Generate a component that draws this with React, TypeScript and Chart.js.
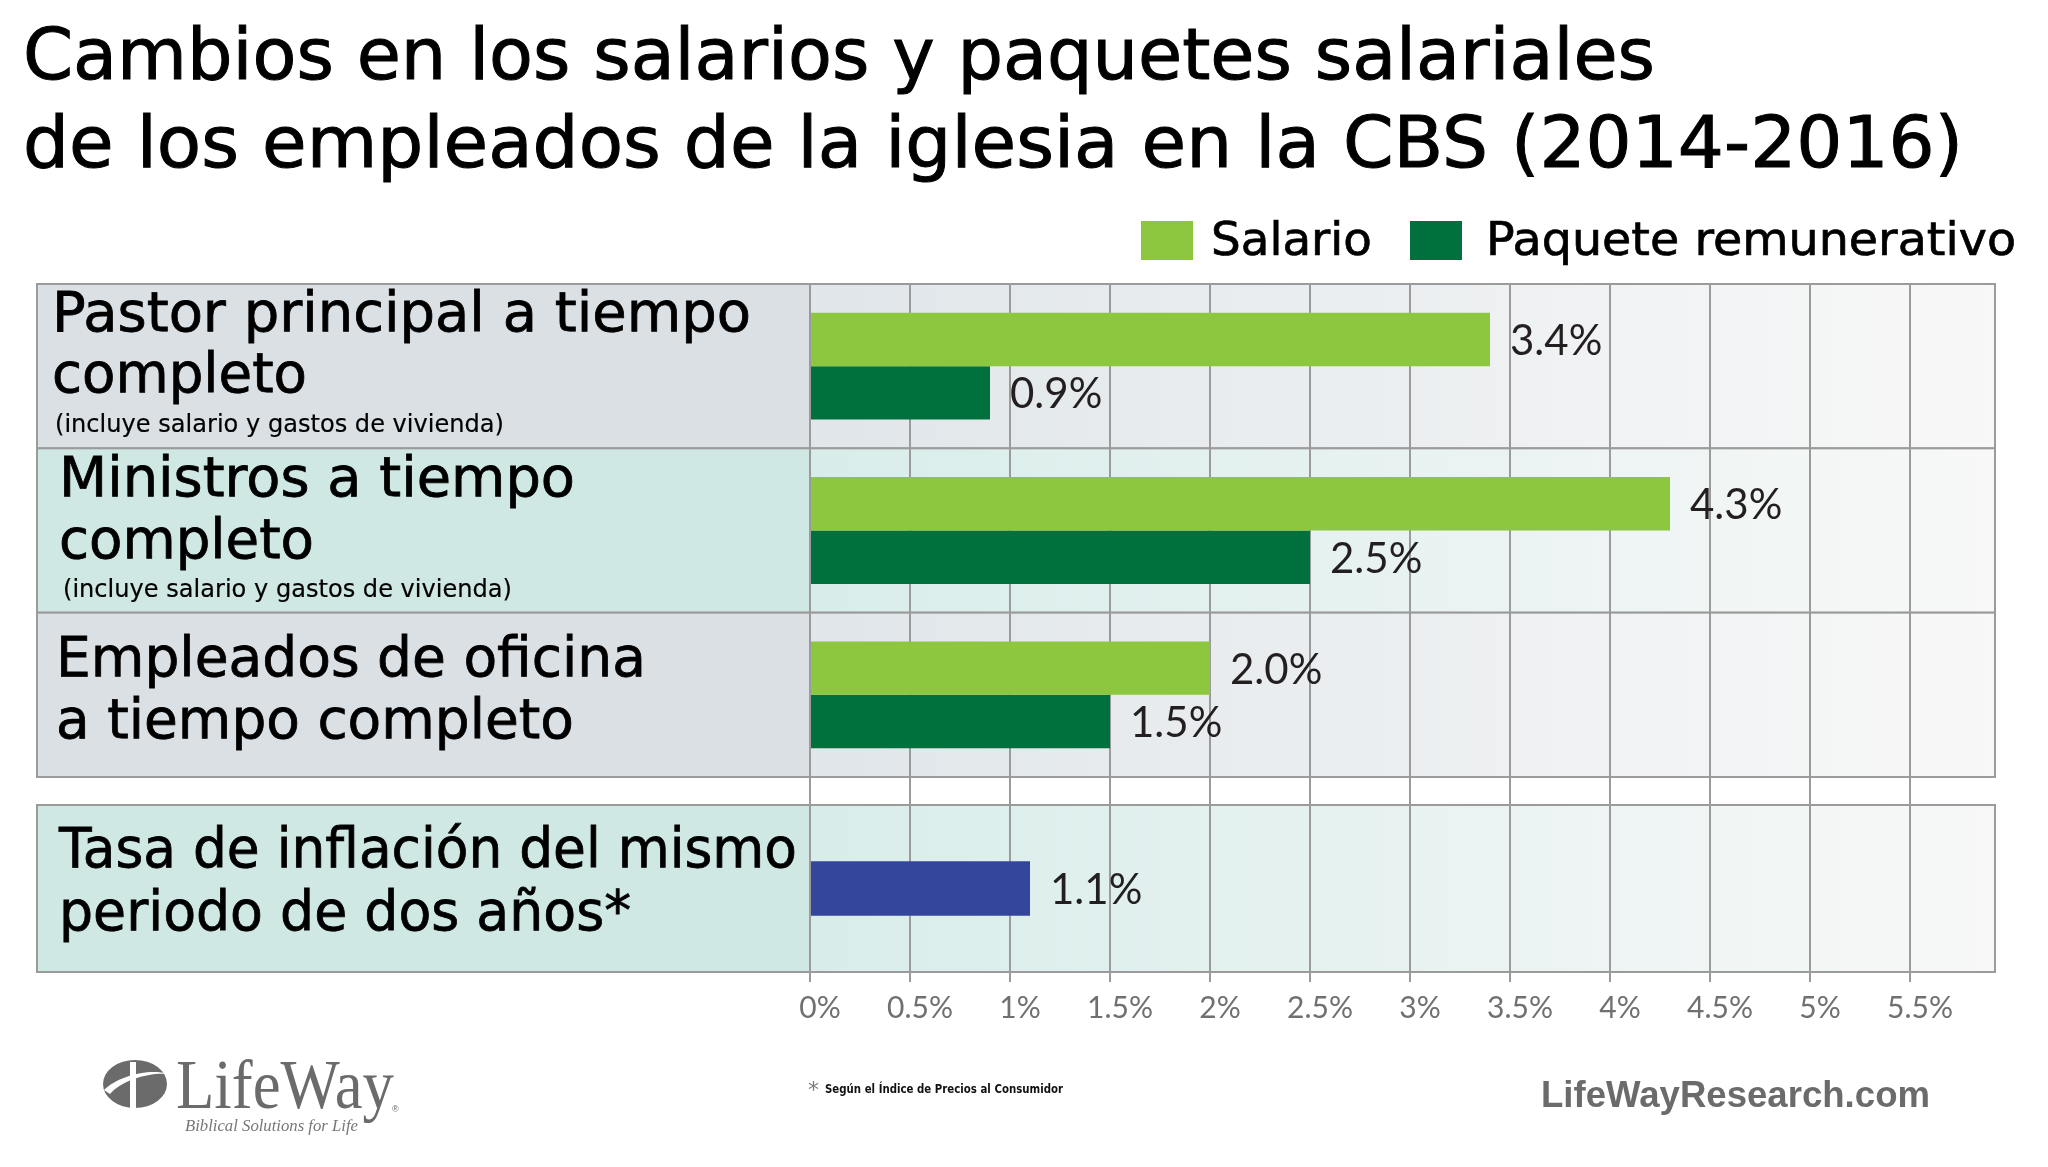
import React, { useEffect, useRef } from 'react';
import { Chart, registerables } from 'chart.js';

Chart.register(...registerables);

// ---------- data ----------
const titleLines = [
  'Cambios en los salarios y paquetes salariales',
  'de los empleados de la iglesia en la CBS (2014-2016)',
];
const seriesNames = ['Salario', 'Paquete remunerativo'];
const seriesColors = ['#8dc63f', '#00703c'];
const groupKeys = ['Pastor principal', 'Ministros', 'Empleados de oficina'];
const groupLines = [
  ['Pastor principal a tiempo', 'completo'],
  ['Ministros a tiempo', 'completo'],
  ['Empleados de oficina', 'a tiempo completo'],
];
const groupNotes = [
  '(incluye salario y gastos de vivienda)',
  '(incluye salario y gastos de vivienda)',
  '',
];
const salario = [3.4, 4.3, 2.0];
const paquete = [0.9, 2.5, 1.5];
const inflationKeys = ['Inflación'];
const inflationLines = ['Tasa de inflación del mismo', 'periodo de dos años*'];
const inflationName = 'Tasa de inflación';
const inflationColor = '#33469b';
const inflacion = [1.1];
const axisMax = 5.925;
const axisStep = 0.5;
const footnote = 'Según el Índice de Precios al Consumidor';
const siteName = 'LifeWayResearch.com';

// ---------- styling ----------
const PANEL_LEFT = 37;
const LINE_COLOR = '#9b9b9b';
const panelFill = ['#dae0e4', '#cfe8e4'];
const plotFillLeft = ['#e0e6ea', '#d8edea'];
const plotFillRight = '#f8f8f8';

function rowBoxes(startIndex: number) {
  return {
    id: 'rowBoxes',
    beforeDraw(chart: any) {
      const { ctx, chartArea } = chart;
      const y = chart.scales.y;
      const n = chart.data.labels.length;
      const band = (chartArea.bottom - chartArea.top) / n;
      ctx.save();
      for (let i = 0; i < n; i++) {
        const c = y.getPixelForValue(i);
        const top = c - band / 2;
        const k = (startIndex + i) % 2;
        ctx.fillStyle = panelFill[k];
        ctx.fillRect(PANEL_LEFT, top, chartArea.left - PANEL_LEFT, band);
        const g = ctx.createLinearGradient(chartArea.left, 0, chartArea.right, 0);
        g.addColorStop(0, plotFillLeft[k]);
        g.addColorStop(1, plotFillRight);
        ctx.fillStyle = g;
        ctx.fillRect(chartArea.left, top, chartArea.right - chartArea.left, band);
        ctx.strokeStyle = LINE_COLOR;
        ctx.lineWidth = 2;
        ctx.strokeRect(PANEL_LEFT, top, chartArea.right - PANEL_LEFT, band);
      }
      ctx.restore();
    },
  };
}

const valueLabels = {
  id: 'valueLabels',
  afterDatasetsDraw(chart: any) {
    const { ctx } = chart;
    ctx.save();
    ctx.font = '42px Lato';
    ctx.fillStyle = '#231f20';
    ctx.textBaseline = 'middle';
    ctx.textAlign = 'left';
    chart.data.datasets.forEach((ds: any, di: number) => {
      const meta = chart.getDatasetMeta(di);
      meta.data.forEach((bar: any, i: number) => {
        const v = ds.data[i] as number;
        ctx.fillText(v.toFixed(1) + '%', bar.x + 20, bar.y + 2);
      });
    });
    ctx.restore();
  },
};

function makeOptions(showTicks: boolean, padding: any) {
  return {
    indexAxis: 'y' as const,
    responsive: false,
    animation: false as const,
    devicePixelRatio: 1,
    layout: { padding },
    plugins: { legend: { display: false }, tooltip: { enabled: false } },
    scales: {
      x: {
        type: 'linear' as const,
        min: 0,
        max: axisMax,
        border: { display: false },
        grid: {
          color: LINE_COLOR,
          lineWidth: 2,
          drawTicks: true,
          tickLength: showTicks ? 10 : 28,
        },
        afterBuildTicks: (scale: any) => {
          scale.ticks = scale.ticks.filter(
            (t: any) => Math.abs(t.value / axisStep - Math.round(t.value / axisStep)) < 1e-6
          );
        },
        ticks: {
          display: showTicks,
          stepSize: axisStep,
          includeBounds: false,
          autoSkip: false,
          maxRotation: 0,
          labelOffset: 10,
          padding: 8,
          color: '#707070',
          font: { family: 'Lato', size: 30 },
          callback: (v: any) => `${v}%`,
        },
      },
      y: {
        type: 'category' as const,
        display: false,
        offset: true,
        grid: { display: false },
      },
    },
  };
}

function ChartCanvas({ top, height, config }: { top: number; height: number; config: () => any }) {
  const ref = useRef<HTMLCanvasElement | null>(null);
  useEffect(() => {
    if (!ref.current) return;
    const chart = new Chart(ref.current, config());
    return () => chart.destroy();
  }, []);
  return (
    <canvas
      ref={ref}
      width={2048}
      height={height}
      style={{ position: 'absolute', left: 0, top, width: 2048, height }}
    />
  );
}

const groupConfig = () => ({
  type: 'bar',
  data: {
    labels: groupKeys,
    datasets: [
      {
        label: seriesNames[0],
        data: salario,
        backgroundColor: seriesColors[0],
        categoryPercentage: 0.65,
        barPercentage: 1,
      },
      {
        label: seriesNames[1],
        data: paquete,
        backgroundColor: seriesColors[1],
        categoryPercentage: 0.65,
        barPercentage: 1,
      },
    ],
  },
  options: makeOptions(false, { left: 810, right: 53, top: 14, bottom: 0 }),
  plugins: [rowBoxes(0), valueLabels],
});

const inflationConfig = () => ({
  type: 'bar',
  data: {
    labels: inflationKeys,
    datasets: [
      {
        label: inflationName,
        data: inflacion,
        backgroundColor: inflationColor,
        categoryPercentage: 0.65,
        barPercentage: 0.5,
      },
    ],
  },
  options: makeOptions(true, { left: 810, right: 53, top: 15, bottom: 16 }),
  plugins: [rowBoxes(3), valueLabels],
});

const SANS = "'DejaVu Sans', Verdana, sans-serif";

type Line = { t: string; x: number; y: number; w: number; s: number };

export default function App() {
  const labelText: Line[] = [
    { t: groupLines[0][0], x: 52, y: 331, w: 699, s: 55.5 },
    { t: groupLines[0][1], x: 52, y: 392, w: 255, s: 55.5 },
    { t: groupNotes[0], x: 55, y: 432, w: 449, s: 24 },
    { t: groupLines[1][0], x: 59, y: 496, w: 516, s: 55.5 },
    { t: groupLines[1][1], x: 59, y: 558, w: 255, s: 55.5 },
    { t: groupNotes[1], x: 63, y: 597, w: 449, s: 24 },
    { t: groupLines[2][0], x: 56, y: 676, w: 590, s: 55.5 },
    { t: groupLines[2][1], x: 56, y: 738, w: 518, s: 55.5 },
    { t: inflationLines[0], x: 59, y: 867, w: 738, s: 55.5 },
    { t: inflationLines[1], x: 59, y: 930, w: 572, s: 55.5 },
  ];
  return (
    <div
      style={{
        position: 'absolute',
        left: 0,
        top: 0,
        width: 2048,
        height: 1167,
        background: '#ffffff',
        overflow: 'hidden',
      }}
    >
      <ChartCanvas top={270} height={535} config={groupConfig} />
      <ChartCanvas top={790} height={260} config={inflationConfig} />
      <svg
        width={2048}
        height={1167}
        style={{ position: 'absolute', left: 0, top: 0, pointerEvents: 'none' }}
      >
        <g fontFamily={SANS} fill="#000" stroke="#000" strokeWidth={1}>
          <text x={23} y={79} fontSize={71.8} textLength={1632} lengthAdjust="spacingAndGlyphs">
            {titleLines[0]}
          </text>
          <text x={23} y={167} fontSize={71.8} textLength={1940} lengthAdjust="spacingAndGlyphs">
            {titleLines[1]}
          </text>
        </g>
        <g fontFamily={SANS} fontSize={47} fill="#000">
          <rect x={1141} y={221} width={52} height={39} fill={seriesColors[0]} />
          <text x={1211} y={255} stroke="#000" strokeWidth={0.7} textLength={161} lengthAdjust="spacingAndGlyphs">
            {seriesNames[0]}
          </text>
          <rect x={1410} y={221} width={52} height={39} fill={seriesColors[1]} />
          <text x={1486} y={255} stroke="#000" strokeWidth={0.7} textLength={530} lengthAdjust="spacingAndGlyphs">
            {seriesNames[1]}
          </text>
        </g>
        <g fontFamily={SANS} fill="#000">
          {labelText.map((l, i) =>
            l.t ? (
              <text
                key={i}
                x={l.x}
                y={l.y}
                fontSize={l.s}
                textLength={l.w}
                lengthAdjust="spacingAndGlyphs"
                stroke="#000"
                strokeWidth={l.s > 30 ? 0.8 : 0.2}
              >
                {l.t}
              </text>
            ) : null
          )}
        </g>
        {/* footer */}
        <text x={808} y={1097} fontFamily={SANS} fontSize={22} fill="#7a7a7a">*</text>
        <text
          x={825}
          y={1093}
          fontFamily={SANS}
          fontWeight="bold"
          fontSize={13}
          textLength={238}
          lengthAdjust="spacingAndGlyphs"
          fill="#111"
        >
          {footnote}
        </text>
        <text
          x={1541}
          y={1107}
          fontFamily="'Liberation Sans', Arial, sans-serif"
          fontWeight="bold"
          fontSize={37}
          textLength={389}
          lengthAdjust="spacingAndGlyphs"
          fill="#6b6b6b"
        >
          {siteName}
        </text>
        <g fill="#6b6b6b">
          <ellipse cx={135} cy={1084} rx={32} ry={24} />
          <rect x={130} y={1062} width={6} height={46} fill="#fff" />
          <path d="M104,1090 C118,1076 150,1068 168,1074 C150,1072 122,1080 110,1094 Z" fill="#fff" />
          <text
            x={176}
            y={1108}
            fontFamily="'Liberation Serif', 'Times New Roman', serif"
            fontSize={70}
            textLength={218}
            lengthAdjust="spacingAndGlyphs"
          >
            LifeWay
          </text>
          <text x={392} y={1112} fontFamily="'Liberation Sans', Arial, sans-serif" fontSize={9}>®</text>
          <text
            x={185}
            y={1131}
            fontFamily="'Liberation Serif', 'Times New Roman', serif"
            fontStyle="italic"
            fontSize={17}
            textLength={173}
            lengthAdjust="spacingAndGlyphs"
            fill="#777"
          >
            Biblical Solutions for Life
          </text>
        </g>
      </svg>
    </div>
  );
}
